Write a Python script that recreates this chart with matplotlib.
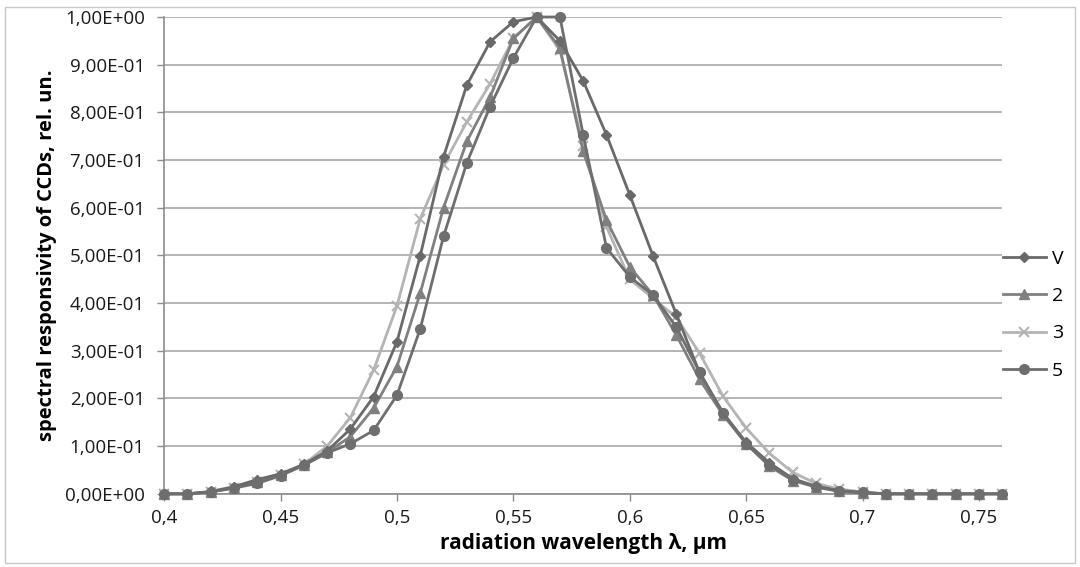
import numpy as np
import matplotlib
matplotlib.use("Agg")
import matplotlib.pyplot as plt
from matplotlib.patches import Rectangle

plt.rcParams['font.family'] = ['Open Sans', 'DejaVu Sans']

# wavelength, um (0.40 ... 0.76 step 0.01)
wavelength = [0.40, 0.41, 0.42, 0.43, 0.44, 0.45, 0.46, 0.47, 0.48, 0.49,
              0.50, 0.51, 0.52, 0.53, 0.54, 0.55, 0.56, 0.57, 0.58, 0.59,
              0.60, 0.61, 0.62, 0.63, 0.64, 0.65, 0.66, 0.67, 0.68, 0.69,
              0.70, 0.71, 0.72, 0.73, 0.74, 0.75, 0.76]

resp_V = [0, 0, 0.005, 0.015, 0.030, 0.042, 0.062, 0.090, 0.136, 0.204,
          0.319, 0.499, 0.707, 0.857, 0.948, 0.990, 1.000, 0.950, 0.866, 0.753,
          0.627, 0.499, 0.377, 0.254, 0.170, 0.108, 0.065, 0.032, 0.016, 0.007,
          0.003, 0, 0, 0, 0, 0, 0]

resp_2 = [0, 0, 0.004, 0.013, 0.025, 0.040, 0.060, 0.087, 0.120, 0.180,
          0.267, 0.421, 0.600, 0.739, 0.832, 0.955, 1.000, 0.935, 0.718, 0.574,
          0.476, 0.417, 0.333, 0.240, 0.166, 0.105, 0.058, 0.028, 0.014, 0.005,
          0.002, 0, 0, 0, 0, 0, 0]

resp_3 = [0, 0, 0.004, 0.013, 0.025, 0.040, 0.062, 0.100, 0.160, 0.260,
          0.394, 0.577, 0.690, 0.780, 0.860, 0.955, 1.000, 0.930, 0.730, 0.560,
          0.450, 0.410, 0.370, 0.295, 0.205, 0.138, 0.085, 0.045, 0.022, 0.010,
          0.004, 0, 0, 0, 0, 0, 0]

resp_5 = [0, 0, 0.004, 0.012, 0.022, 0.038, 0.060, 0.086, 0.105, 0.133,
          0.207, 0.346, 0.540, 0.694, 0.812, 0.914, 1.000, 1.000, 0.753, 0.516,
          0.455, 0.417, 0.350, 0.255, 0.170, 0.105, 0.060, 0.030, 0.015, 0.006,
          0.003, 0, 0, 0, 0, 0, 0]

x_ticks = [0.40, 0.45, 0.50, 0.55, 0.60, 0.65, 0.70, 0.75]
x_ticklabels = ["0,4", "0,45", "0,5", "0,55", "0,6", "0,65", "0,7", "0,75"]
y_ticks = [0.0, 0.1, 0.2, 0.3, 0.4, 0.5, 0.6, 0.7, 0.8, 0.9, 1.0]
y_ticklabels = ["0,00E+00", "1,00E-01", "2,00E-01", "3,00E-01", "4,00E-01",
                "5,00E-01", "6,00E-01", "7,00E-01", "8,00E-01", "9,00E-01",
                "1,00E+00"]

fig = plt.figure(figsize=(10.8, 5.67), dpi=100)
ax = fig.add_axes([0.152, 0.129, 0.776, 0.841])

# outer chart border
fig.patches.append(Rectangle((0.005, 0.007), 0.99, 0.981, transform=fig.transFigure,
                             fill=False, edgecolor="#c8c8c8", linewidth=1))

ax.plot(wavelength, resp_V, color="#696969", lw=2, marker="D", ms=5, label="V", zorder=4)
ax.plot(wavelength, resp_2, color="#808080", lw=2, marker="^", ms=7, label="2", zorder=3)
ax.plot(wavelength, resp_3, color="#b4b4b4", lw=2, marker="x", ms=7, mew=1.5, label="3", zorder=2)
ax.plot(wavelength, resp_5, color="#6e6e6e", lw=2, marker="o", ms=7, label="5", zorder=5)

ax.set_xlim(0.40, 0.76)
ax.set_ylim(0, 1.0)
ax.set_xticks(x_ticks)
ax.set_xticklabels(x_ticklabels)
ax.set_yticks(y_ticks)
ax.set_yticklabels(y_ticklabels)
ax.tick_params(axis="both", labelsize=13.5, colors="#8c8c8c", labelcolor="#1a1a1a",
               length=5, width=1)
ax.tick_params(axis="x", pad=6)
ax.tick_params(axis="y", pad=9)

ax.grid(axis="y", color="#a8a8a8", lw=1.2)
ax.set_axisbelow(True)
for s in ["top", "right"]:
    ax.spines[s].set_visible(False)
ax.spines["left"].set_color("#8c8c8c")
ax.spines["bottom"].set_color("#8c8c8c")
ax.spines["left"].set_linewidth(1.2)
ax.spines["bottom"].set_linewidth(1.2)
for ln in ax.lines:
    ln.set_clip_on(False)

ax.set_xlabel("radiation wavelength λ, μm", fontsize=15, fontweight="bold", labelpad=4)
ax.set_ylabel("spectral responsivity of CCDs, rel. un.", fontsize=14.5, fontweight="bold",
              labelpad=6)

ax.legend(loc="center left", bbox_to_anchor=(1003 / 1080, 0.445), bbox_transform=fig.transFigure,
          frameon=False, fontsize=14, handlelength=2.2, labelspacing=1.0,
          borderaxespad=0, borderpad=0, handletextpad=0.3)

fig.savefig("out.png", dpi=100)
